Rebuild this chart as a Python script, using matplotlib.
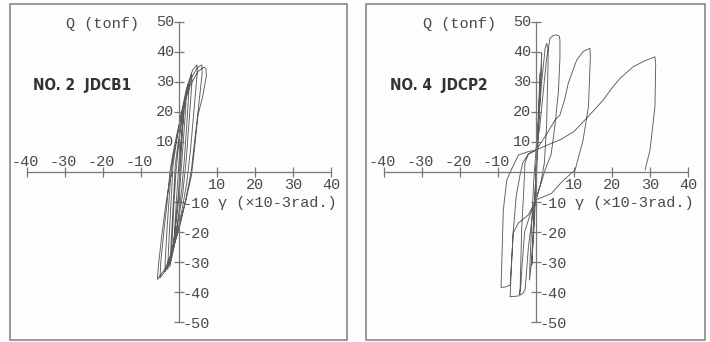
import matplotlib
matplotlib.use("Agg")
import matplotlib.pyplot as plt
from matplotlib.patches import Rectangle
from matplotlib import font_manager

# NO.2 JDCB1 : shear angle (x10^-3 rad) vs shear force (tonf)
jdcb1_gamma = [0, 0.6, 1.2, 1.0, 0.4, -0.2, -0.8, -1.3,
               -1.0, -0.5, 0.1, 0.8, 1.5, 1.9,
               1.7, 1.0, 0.3, -0.5, -1.3, -2.0,
               -1.7, -1.3, -0.8, -0.2, 0.8, 1.8, 2.5,
               2.6, 2.0, 1.4, 0.7, -0.2, -1.3, -2.4,
               -2.2, -1.8, -1.4, -1.0, -0.2, 1.0, 2.3, 3.3,
               3.4, 2.6, 1.9, 1.0, -0.3, -1.8, -3.0,
               -2.8, -2.4, -2.0, -1.6, -0.8, 0.5, 2.0, 3.6, 4.7,
               4.8, 3.9, 3.0, 2.0, 0.6, -1.2, -2.6, -3.7,
               -3.6, -3.1, -2.6, -2.1, -1.4, -0.2, 1.5, 3.5, 5.0, 6.0,
               6.1, 5.0, 4.0, 3.2, 1.8, 0.2, -1.8, -3.6, -5.0,
               -4.8, -4.0, -3.2, -2.4, -1.6, -0.5, 1.0, 3.0, 5.0, 6.6, 7.1,
               7.2, 6.2, 5.0, 4.1, 3.3, 1.9, 0.3, -1.5, -3.5, -5.7,
               -5.4, -4.6, -3.6, -2.6, -1.8]
jdcb1_q = [0, 10, 20, 15, 3, -8, -16, -23,
           -16, -6, 5, 14, 22, 26,
           20, 8, -4, -14, -22, -28,
           -20, -10, 0, 8, 18, 26, 29.6,
           27, 15, 4, -6, -15, -25, -31.6,
           -27, -17, -8, 2, 10, 20, 28, 32.9,
           30, 16, 4, -7, -17, -27, -32.5,
           -27, -17, -8, 2, 9, 19, 28, 34, 35.7,
           33, 20, 7, -4, -14, -24, -30, -33.2,
           -29, -18, -9, 0, 6, 14, 24, 32, 35, 35.7,
           33, 20, 9, 0, -9, -18, -27, -33, -35.3,
           -30, -20, -11, 0, 6, 13, 21, 29, 33.5, 35.0, 34.5,
           32, 25, 19, 8, -1, -9, -17, -25, -32, -35.8,
           -31, -22, -12, -4, 0]

# NO.4 JDCP2
jdcp2_gamma = [0, 0.4, 0.8, 1.1, 1.0, 0.5, 0, -0.4, -0.8, -1.1, -1.0, -0.5, 0,
               0.6, 1.2, 1.5, 1.4, 0.9, 0.4, 0, -0.5, -1.1, -1.7, -1.6, -1.1, -0.6, 0,
               0.6, 1.5, 2.4, 2.8, 3.2, 3.2, 2.8, 2.2, 1.2, 0, -1.0, -2.0, -2.6, -2.9,
               -3.5, -4.2, -4.1, -3.8, -3.3, -2.9, -2.0, 0,
               1.0, 2.0, 2.8, 3.7, 4.5, 5.4, 6.1, 6.3, 6.3, 5.9, 5.0, 4.0, 2.4, 1.0, 0,
               -1.5, -3.0, -3.6, -4.0, -4.5, -6.8, -6.6, -6.0, -5.2, -4.2, -3.5, -2.0, 0,
               2.5, 5.0, 6.3, 7.5, 8.5, 10.7, 12.5, 14.2, 14.3, 13.8, 12.4, 10.3, 7.0, 4.1, 0,
               -2.0, -4.7, -6.0, -6.4, -6.8, -8.0, -9.2, -9.0, -8.6, -7.7, -6.4, -4.6, -2.0, 0,
               3.0, 6.3, 10.0, 13.3, 17.7, 20.0, 22.1, 25.6, 28.5, 31.3, 31.5, 31.3, 30.0, 28.7]
jdcp2_q = [0, 12, 25, 33, 28, 14, 0, -12, -24, -31, -26, -12, 0,
           15, 30, 39.6, 35, 20, 6, -5, -18, -29, -36, -31, -16, -3, 7.3,
           15.7, 30, 41.2, 42.9, 41, 37.9, 15.7, 3, -4, -9.3, -15, -25, -35, -39.3,
           -40.5, -41, -35, -20, -8, 3, 6, 7.3,
           15, 28, 38, 44.6, 45.5, 45.7, 45.3, 44.0, 37.9, 26.8, 15.7, 6, 0.7, -5, -9.3,
           -14, -20, -30, -38, -41.3, -41.6, -35, -20, -8, -1, 3, 6, 7.3,
           12, 17.3, 19, 24, 29.6, 37.3, 40.3, 41.2, 38, 21.8, 10.7, 0.7, -3, -7.1, -9.3,
           -14.3, -17.1, -20.4, -29, -37.7, -38.3, -38.5, -30, -12.7, -2.7, 1, 5.7, 6.8, 7.3,
           9, 10.7, 13.5, 17.9, 24, 28, 31.2, 35.1, 37, 38.4, 36, 21.8, 7.3, 0.7]

x_ticks = [-40, -30, -20, -10, 10, 20, 30, 40]
y_ticks = [-50, -40, -30, -20, -10, 10, 20, 30, 40, 50]

# condensed bold face for the specimen names if one is installed
title_kw = dict(family="DejaVu Sans", fontsize=10)
for f in font_manager.fontManager.ttflist:
    if f.name == "DejaVu Sans" and "ondensed" in str(f.stretch) + f.fname:
        title_kw = dict(family="DejaVu Sans", fontstretch="condensed", fontsize=11)
        break
num_font = "Liberation Mono"

W, H = 710, 342
fig = plt.figure(figsize=(W / 100, H / 100), dpi=100)
fig.patch.set_facecolor("#fdfdfd")

ink = "#4a4a4a"


def panel(frame, zero_px, gamma, q, title):
    x0, y0, x1, y1 = frame
    ax = fig.add_axes([x0 / W, 1 - y1 / H, (x1 - x0) / W, (y1 - y0) / H])
    ax.set_facecolor("none")
    # 10 units = 38 px horizontally, 30 px vertically; x axis at pixel row 172
    ax.set_xlim((x0 - zero_px) / 3.8, (x1 - zero_px) / 3.8)
    ax.set_ylim((172 - y1) / 3, (172 - y0) / 3)

    for s in ["top", "right"]:
        ax.spines[s].set_visible(False)
    ax.spines["left"].set_position(("data", 0))
    ax.spines["bottom"].set_position(("data", 0))
    ax.spines["left"].set_bounds(-50, 50)
    ax.spines["bottom"].set_bounds(-40, 40)
    for s in ["left", "bottom"]:
        ax.spines[s].set_color("#777")
        ax.spines[s].set_linewidth(0.9)
    ax.set_xticks(x_ticks)
    ax.set_yticks(y_ticks)
    ax.tick_params(direction="inout", length=7, width=0.9, color="#777",
                   labelbottom=False, labelleft=False)

    ax.plot(gamma, q, color="#5c5c5c", lw=0.65)

    lab = dict(family=num_font, fontsize=11, color=ink)
    for t in x_ticks:
        if t < 0:
            ax.text(t - 0.4, 3.2, str(t), ha="center", va="center", **lab)
        else:
            ax.text(t, -4.5, str(t), ha="center", va="center", **lab)
    for t in y_ticks:
        if t > 0:
            ax.text(-1.3, t, str(t), ha="right", va="center", **lab)
        else:
            ax.text(1.0, t - 0.7, str(t), ha="left", va="center", **lab)
    ax.text(-10.5, 49.3, "Q (tonf)", ha="right", va="center", **lab)
    ax.text(10.3, -10.5, "γ (×10-3rad.)", ha="left", va="center", **lab)
    ax.text(-38.4, 28.8, title, ha="left", va="center", fontweight="bold",
            color="#333", **title_kw)

    fig.add_artist(Rectangle((x0 / W, 1 - y1 / H), (x1 - x0) / W, (y1 - y0) / H,
                             transform=fig.transFigure, fill=False,
                             ec="#888", lw=1.2))
    return ax


panel((10, 4, 347, 340), 179, jdcb1_gamma, jdcb1_q, "NO. 2  JDCB1")
panel((366, 4, 705, 340), 536, jdcp2_gamma, jdcp2_q, "NO. 4  JDCP2")

fig.savefig("out.png", dpi=100, facecolor=fig.get_facecolor())
